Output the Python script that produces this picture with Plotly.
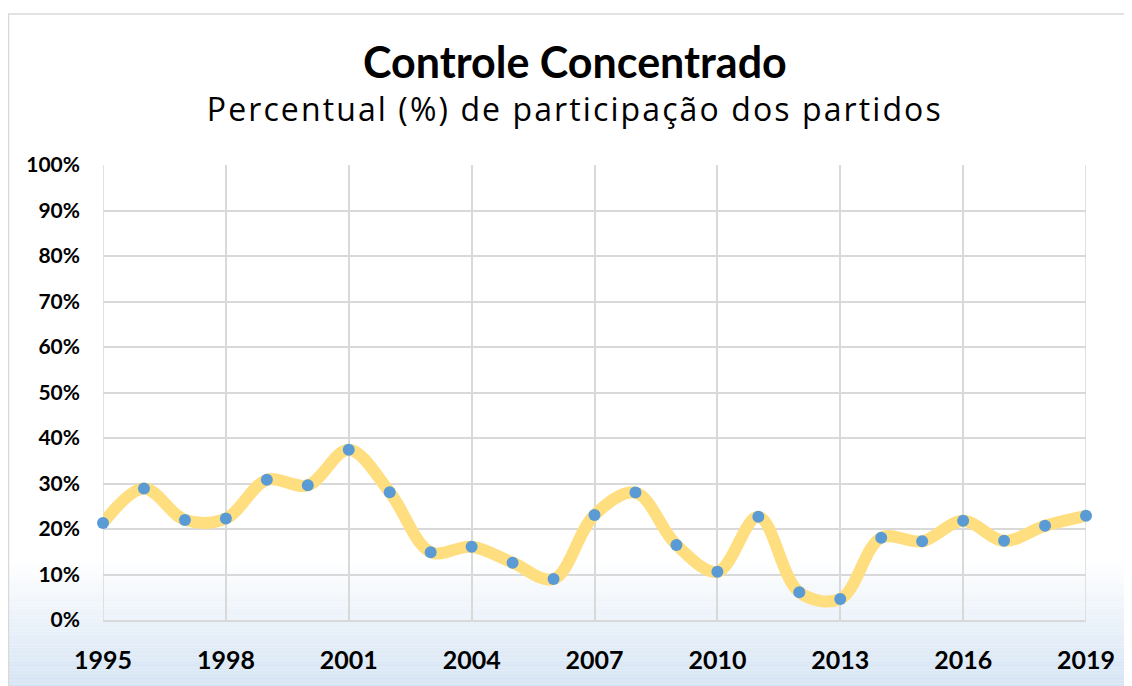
import plotly.graph_objects as go

years = list(range(1995, 2020))
percent = [21.3, 28.9, 22.0, 22.3, 30.8, 29.6, 37.4, 28.1, 14.9, 16.1, 12.6, 9.0,
           23.1, 28.0, 16.5, 10.6, 22.7, 6.1, 4.6, 18.1, 17.3, 21.8, 17.4, 20.7, 22.9]
x_ticks = [1995, 1998, 2001, 2004, 2007, 2010, 2013, 2016, 2019]
y_ticks = list(range(0, 101, 10))
y_labels = [f"{v}%" for v in y_ticks]

title_text = "Controle Concentrado"
subtitle_text = "Percentual (%) de participação dos partidos"

# page body has an 8px margin: figure origin sits at screen (8, 8)
OFF = 8
W, H = 1132 - OFF, 686 - OFF
# target screen positions of the plot area
SL, SR, ST, SB = 103, 1086, 165, 620
L, T = SL - OFF, ST - OFF
R, B = W - (SR - OFF), H - (SB - OFF)
pw, ph = W - L - R, H - T - B

def px(sx):
    return (sx - OFF - L) / pw

def py(sy):
    return (H - B - (sy - OFF)) / ph

fig = go.Figure()
fig.add_trace(go.Scatter(
    x=years, y=percent, mode="lines+markers",
    line=dict(color="rgb(255,222,128)", width=12, shape="spline", smoothing=1.0),
    marker=dict(color="#5B9BD5", size=12),
    cliponaxis=False, showlegend=False, hoverinfo="x+y",
))

shapes = []
# background gradient (white -> light blue) at the bottom
y0, y1 = 560, 690
n = 40
c0 = (255, 255, 255)
c1 = (212, 227, 243)
for i in range(n):
    a = y0 + (y1 - y0) * i / n
    b = y0 + (y1 - y0) * (i + 1) / n
    t = (i + 0.5) / n
    col = tuple(round(c0[k] + (c1[k] - c0[k]) * t) for k in range(3))
    shapes.append(dict(type="rect", xref="paper", yref="paper",
                       x0=px(8), x1=px(1140), y0=py(b), y1=py(a),
                       fillcolor=f"rgb{col}", line=dict(width=0), layer="below"))
# chart frame
shapes.append(dict(type="line", xref="paper", yref="paper", x0=px(8), x1=px(1140),
                   y0=py(14), y1=py(14), line=dict(color="#D9D9D9", width=1.5)))
shapes.append(dict(type="line", xref="paper", yref="paper", x0=px(8.5), x1=px(8.5),
                   y0=py(14), y1=py(690), line=dict(color="#D9D9D9", width=1.5)))

annotations = [
    dict(text=f"<b>{title_text}</b>", x=px(575), y=py(62), xref="paper", yref="paper",
         showarrow=False, xanchor="center", yanchor="middle",
         font=dict(family="Lato", size=43, color="#000000")),
    dict(text=subtitle_text, x=px(575), y=py(108), xref="paper", yref="paper",
         showarrow=False, xanchor="center", yanchor="middle",
         font=dict(family="Open Sans", size=32, color="#000000")),
]

fig.update_layout(
    width=W, height=H,
    margin=dict(l=L, r=R, t=T, b=B, pad=0),
    paper_bgcolor="white", plot_bgcolor="rgba(0,0,0,0)",
    shapes=shapes, annotations=annotations,
    font=dict(family="Lato", color="#000000"),
)
fig.update_xaxes(
    range=[1995, 2019], tickvals=x_ticks, ticktext=[str(v) for v in x_ticks],
    showgrid=True, gridcolor="#D9D9D9", gridwidth=1.5,
    showline=True, linecolor="#D9D9D9", linewidth=1.5, mirror=False,
    zeroline=False, ticks="", tickfont=dict(family="Lato", size=25, weight="bold"),
    ticklabelstandoff=17,
)
fig.update_yaxes(
    range=[0, 100], tickvals=y_ticks, ticktext=y_labels,
    showgrid=True, gridcolor="#D9D9D9", gridwidth=1.5,
    zeroline=False, showline=False, ticks="",
    tickfont=dict(family="Lato", size=21, weight="bold"),
    ticklabelstandoff=22,
)
fig.add_shape(type="line", xref="x", yref="paper", x0=2019, x1=2019, y0=0, y1=1,
              line=dict(color="#D9D9D9", width=1.5), layer="below")
fig.add_shape(type="line", xref="x", yref="y", x0=1995, x1=1995, y0=0, y1=100,
              line=dict(color="#D9D9D9", width=1.5), layer="below")

post = """
document.querySelectorAll('.annotation-text').forEach(function(el){
  if (el.textContent.indexOf('Percentual') === 0) {
    el.style.letterSpacing = '2.1px';
  }
});
"""

fig.write_html("out.html", post_script=post)
